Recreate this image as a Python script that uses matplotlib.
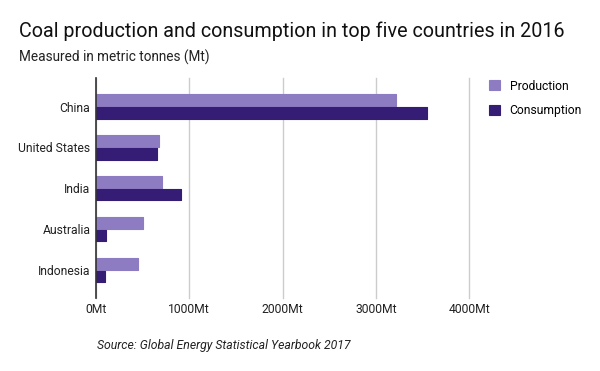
import matplotlib.pyplot as plt
import numpy as np

plt.rcParams['font.family'] = ['Roboto', 'DejaVu Sans']

countries = ['China', 'United States', 'India', 'Australia', 'Indonesia']
production = [3211, 680, 712, 508, 455]
consumption = [3543, 658, 916, 111, 101]
xticks = [0, 1000, 2000, 3000, 4000]
xtick_labels = ['0Mt', '1000Mt', '2000Mt', '3000Mt', '4000Mt']

c_prod = '#8e7cc3'
c_cons = '#351c75'

fig = plt.figure(figsize=(6, 3.71), dpi=100)
ax = fig.add_axes([0.16, 0.197, 0.622, 0.593])

y = np.arange(len(countries))
h = 0.285
ax.barh(y - h / 2 - 0.012, production, height=h, color=c_prod, edgecolor=c_prod,
        linewidth=0.8, joinstyle='round', label='Production', zorder=3)
ax.barh(y + h / 2 + 0.012, consumption, height=h, color=c_cons, edgecolor=c_cons,
        linewidth=0.8, joinstyle='round', label='Consumption', zorder=3)

ax.set_ylim(4.68, -0.7)
ax.set_xlim(0, 4000)
ax.set_yticks(y)
ax.set_yticklabels(countries, fontsize=8.7, color='#222222')
ax.set_xticks(xticks)
ax.set_xticklabels(xtick_labels, fontsize=8.7, color='#222222')
ax.tick_params(length=0, pad=4)
ax.grid(axis='x', color='#cccccc', linewidth=1, zorder=0)
for gl in ax.get_xgridlines():
    gl.set_clip_on(False)
for s in ['top', 'right', 'bottom']:
    ax.spines[s].set_visible(False)
ax.spines['left'].set_color('#333333')
ax.spines['left'].set_linewidth(1.2)
ax.spines['left'].set_zorder(4)

fig.legend(loc='upper left', bbox_to_anchor=(0.797, 0.815), frameon=False,
           fontsize=8.7, handlelength=0.9, handleheight=0.9, labelspacing=0.95,
           handletextpad=0.8)

fig.text(0.032, 0.915, 'Coal production and consumption in top five countries in 2016',
         fontsize=14.2, color='#111111', va='center')
fig.text(0.032, 0.845, 'Measured in metric tonnes (Mt)', fontsize=9.8,
         color='#222222', va='center')
fig.text(0.162, 0.07, 'Source: Global Energy Statistical Yearbook 2017',
         fontsize=8.8, style='italic', color='#222222', va='center')

fig.savefig('out.png', dpi=100)
